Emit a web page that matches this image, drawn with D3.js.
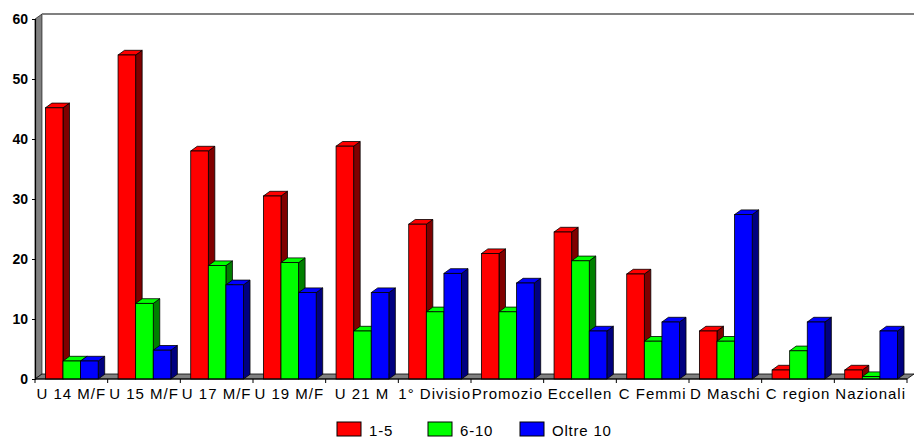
<!DOCTYPE html>
<html><head><meta charset="utf-8">
<script src="https://cdn.jsdelivr.net/npm/d3@7"></script>
<style>body{margin:0;background:#fff}svg{display:block}text{font-family:"Liberation Sans",Arial,sans-serif}</style>
</head><body><svg id="c" width="914" height="438"></svg>
<script>
const categories = ["U 14 M/F","U 15 M/F","U 17 M/F","U 19 M/F","U 21 M","1° Divisio","Promozio","Eccellen","C Femmi","D Maschi","C region","Nazionali"];
const seriesNames = ["1-5","6-10","Oltre 10"];
const s1 = [45.2,54.0,38.0,30.5,38.8,25.8,20.9,24.5,17.5,8.0,1.5,1.5];
const s2 = [3.0,12.6,18.9,19.4,8.0,11.2,11.2,19.7,6.3,6.3,4.7,0.4];
const s3 = [3.0,4.8,15.7,14.4,14.4,17.6,16.0,8.0,9.5,27.4,9.5,8.0];
const yTicks = [0,10,20,30,40,50,60];
const frontColors = ["#ff0000","#00ff00","#0000ff"];
const sideColors = ["#800000","#008000","#000080"];

const svg = d3.select("#c");
const L = 35, R = 907, T = 19, B = 379;
const DX = 7, DY = 5, BDX = 6.5, BDY = 4.7;
const x0 = d3.scaleBand().domain(categories).range([L, R]).padding(0);
const bw = x0.bandwidth();
const x1 = d3.scaleBand().domain(seriesNames).range([bw*0.143, bw*0.143 + 3*17.6]).padding(0);
const y = d3.scaleLinear().domain([0,60]).range([B, T]);
const data = [s1,s2,s3];

// left wall
svg.append("path").attr("d",`M${L},${B}L${L},${T}L${L+DX},${T-DY}L${L+DX},${B-DY}Z`).attr("fill","#808080").attr("stroke","#000").attr("stroke-width",0.6);
// top edge of back wall
svg.append("line").attr("x1",L+DX).attr("x2",914).attr("y1",T-DY).attr("y2",T-DY).attr("stroke","#808080").attr("stroke-width",2);
// floor
svg.append("path").attr("d",`M${L},${B}L${L+DX},${B-DY}L${R+DX},${B-DY}L${R},${B}Z`).attr("fill","#808080").attr("stroke","#000").attr("stroke-width",0.8);

// bars
categories.forEach((c,i)=>{
  seriesNames.forEach((s,j)=>{
    const v = data[j][i];
    const xa = x0(c) + x1(s), xb = xa + x1.bandwidth();
    const yt = y(v), yb = y(0);
    const g = svg.append("g");
    g.append("path").attr("d",`M${xb},${yb}L${xb},${yt}L${xb+BDX},${yt-BDY}L${xb+BDX},${yb-BDY}Z`).attr("fill",sideColors[j]).attr("stroke","#000").attr("stroke-width",0.8).attr("stroke-linejoin","round");
    g.append("path").attr("d",`M${xa},${yt}L${xa+BDX},${yt-BDY}L${xb+BDX},${yt-BDY}L${xb},${yt}Z`).attr("fill",frontColors[j]).attr("stroke","#000").attr("stroke-width",0.8).attr("stroke-linejoin","round");
    g.append("rect").attr("x",xa).attr("y",yt).attr("width",xb-xa).attr("height",yb-yt).attr("fill",frontColors[j]).attr("stroke","#000").attr("stroke-width",0.8);
  });
});

// y axis
const ya = d3.axisLeft(y).tickValues(yTicks).tickSize(3).tickPadding(4);
const gy = svg.append("g").attr("transform",`translate(${L},0)`).call(ya);
gy.select(".domain").attr("stroke","#000").attr("stroke-width",1.2);
gy.selectAll("text").attr("font-size",14).attr("font-weight","bold").attr("fill","#000").style("font-family","'Liberation Sans',Arial,sans-serif");

// x axis
const xTickPos = d3.range(categories.length+1).map(i=>L+i*bw);
svg.append("line").attr("x1",L).attr("x2",R).attr("y1",B).attr("y2",B).attr("stroke","#000").attr("stroke-width",1.2);
svg.selectAll(".xt").data(xTickPos).enter().append("line").attr("x1",d=>d).attr("x2",d=>d).attr("y1",B).attr("y2",B+4).attr("stroke","#000");
svg.selectAll(".xl").data(categories).enter().append("text")
  .attr("x",d=>x0(d)+bw/2).attr("y",399).attr("text-anchor","middle")
  .attr("font-size",15).attr("letter-spacing","1px").attr("fill","#000").text(d=>d);

// legend
const legX = [337,428,520];
seriesNames.forEach((s,j)=>{
  svg.append("rect").attr("x",legX[j]).attr("y",422).attr("width",24).attr("height",14).attr("fill",frontColors[j]).attr("stroke","#000").attr("stroke-width",1);
  svg.append("text").attr("x",legX[j]+32).attr("y",436).attr("font-size",15).attr("letter-spacing","0.8px").attr("fill","#000").text(s);
});
</script></body></html>
